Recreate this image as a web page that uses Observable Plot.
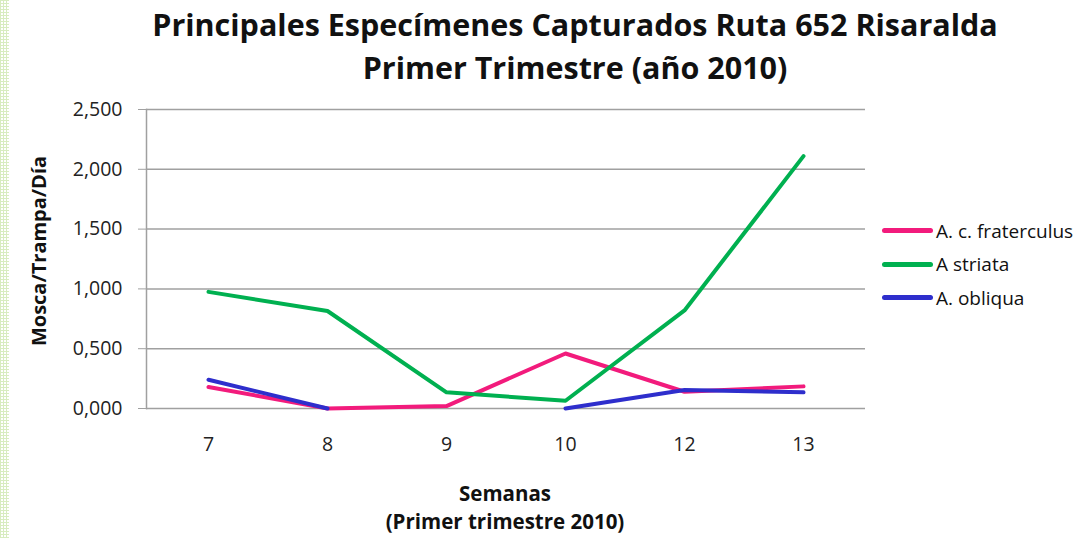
<!DOCTYPE html>
<html><head><meta charset="utf-8">
<script src="https://cdn.jsdelivr.net/npm/d3@7"></script>
<script src="https://cdn.jsdelivr.net/npm/@observablehq/plot@0.6"></script>
<style>
body{margin:0;background:#fff;font-family:"Open Sans",sans-serif;}
#wrap{position:relative;width:1091px;height:538px;overflow:hidden;background:#fff;}
#border{position:absolute;left:0;top:0;width:9px;height:538px;
 background-image:repeating-linear-gradient(0deg,#d8ecc0 0 1px,transparent 1px 3px),repeating-linear-gradient(90deg,#d8ecc0 0 1px,transparent 1px 3px);}
#title{position:absolute;top:3px;left:0;width:1150px;text-align:center;font-weight:bold;font-size:30.5px;line-height:43px;color:#111;}
#chart{position:absolute;left:0;top:95px;}
#ylab{position:absolute;left:38px;top:251px;transform:translate(-50%,-50%) rotate(-90deg);font-weight:bold;font-size:20px;white-space:nowrap;color:#111;}
#xlab{position:absolute;left:305px;width:400px;top:479px;text-align:center;font-weight:bold;font-size:20.5px;line-height:28px;color:#111;}
#legend{position:absolute;left:882px;top:214px;font-size:19px;color:#111;}
#legend .row{display:flex;align-items:center;height:33.5px;}
#legend .sw{width:51px;height:5px;margin-right:3px;border-radius:2.5px;}
</style>
</head><body>
<div id="wrap">
<div id="border"></div>
<div id="title">Principales Especímenes Capturados Ruta 652 Risaralda<br>Primer Trimestre (año 2010)</div>
<div id="chart"></div>
<div id="ylab">Mosca/Trampa/Día</div>
<div id="xlab">Semanas<br>(Primer trimestre 2010)</div>
<div id="legend"></div>
</div>
<script>
const weeks = ["7", "8", "9", "10", "12", "13"];
const fraterculus = [0.18, 0.0, 0.02, 0.46, 0.14, 0.185];
const striata = [0.975, 0.815, 0.135, 0.065, 0.82, 2.11];
const obliqua = [0.24, 0.0, null, 0.0, 0.155, 0.135];
const seriesNames = ["A. c. fraterculus", "A striata", "A. obliqua"];
const seriesColors = ["#f21b7c", "#00b050", "#2e2ecc"];
const yTicks = [0, 0.5, 1, 1.5, 2, 2.5];

const allSeries = [fraterculus, striata, obliqua];
const data = [];
allSeries.forEach((vals, i) => {
  vals.forEach((v, j) => data.push({series: seriesNames[i], week: weeks[j], value: v == null ? NaN : v}));
});
const fmt = d => d3.format(".3f")(d).replace(".", ",");

const chart = Plot.plot({
  width: 1091,
  height: 363,
  marginLeft: 146,
  marginRight: 226,
  marginTop: 14,
  marginBottom: 50,
  style: {fontFamily: "Open Sans, sans-serif", fontSize: "19.5px", color: "#222", background: "transparent"},
  x: {type: "point", domain: weeks, padding: 0.5},
  y: {domain: [0, 2.5]},
  color: {domain: seriesNames, range: seriesColors},
  marks: [
    Plot.gridY(yTicks, {stroke: "#a0a0a0", strokeOpacity: 1, strokeWidth: 1.5}),
    Plot.frame({anchor: "left", stroke: "#a0a0a0", strokeWidth: 1.5}),
    Plot.axisY(yTicks, {tickFormat: fmt, tickSize: 8, stroke: "#a0a0a0", tickPadding: 16, label: null, fill: "#222"}),
    Plot.axisX({tickSize: 0, tickPadding: 29, label: null, fill: "#222"}),
    Plot.line(data, {x: "week", y: "value", z: "series", stroke: "series", strokeWidth: 4, curve: "linear"})
  ]
});
document.getElementById("chart").appendChild(chart);

const leg = document.getElementById("legend");
seriesNames.forEach((n, i) => {
  const r = document.createElement("div");
  r.className = "row";
  r.innerHTML = `<div class="sw" style="background:${seriesColors[i]}"></div><span>${n}</span>`;
  leg.appendChild(r);
});
</script>
</body></html>
